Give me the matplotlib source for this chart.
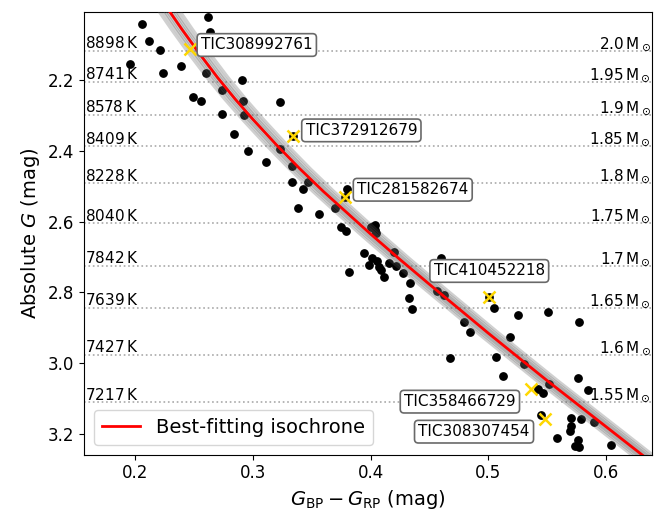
import matplotlib
matplotlib.use('Agg')
import matplotlib.pyplot as plt
import numpy as np

# best-fitting isochrone (colour, absolute G)
iso_color = [0.229, 0.240, 0.255, 0.270, 0.285, 0.300, 0.320, 0.340, 0.360, 0.380, 0.400,
             0.425, 0.450, 0.475, 0.500, 0.525, 0.550, 0.575, 0.600, 0.625, 0.640]
iso_G = [2.005, 2.058, 2.127, 2.193, 2.254, 2.311, 2.383, 2.451, 2.515, 2.575, 2.635,
         2.707, 2.777, 2.846, 2.915, 2.982, 3.049, 3.114, 3.179, 3.244, 3.283]
# spread of the sampled isochrones (colour shifts)
band_shifts = [-0.009, -0.006, -0.004, -0.002, 0.0, 0.002, 0.004, 0.006, 0.009]

# cluster members
star_color = [0.2062, 0.2621, 0.2638, 0.2121, 0.2212, 0.1958, 0.2235, 0.2390, 0.2603, 0.2909,
              0.2742, 0.2489, 0.2558, 0.2921, 0.3233, 0.2743, 0.2922, 0.2842, 0.2958, 0.3235,
              0.3116, 0.3332, 0.3331, 0.3428, 0.3386, 0.3342, 0.3469, 0.3799, 0.3780, 0.3695,
              0.3562, 0.3746, 0.3788, 0.3977, 0.4042, 0.4006, 0.4034, 0.4048, 0.3943, 0.4014,
              0.4057, 0.3986, 0.4076, 0.4091, 0.4113, 0.3816, 0.4155, 0.4203, 0.4218, 0.4274,
              0.4339, 0.4325, 0.4352, 0.4599, 0.4564, 0.4620, 0.5008, 0.5051, 0.5252, 0.5508,
              0.5771, 0.4797, 0.4845, 0.5184, 0.4675, 0.5065, 0.5305, 0.5125, 0.5517, 0.5765,
              0.5842, 0.5424, 0.5466, 0.5447, 0.5701, 0.5786, 0.5898, 0.5703, 0.5695, 0.5587,
              0.5765, 0.5737, 0.5771, 0.6040]
star_G = [2.0427, 2.0229, 2.0650, 2.0912, 2.1167, 2.1540, 2.1808, 2.1613, 2.1802, 2.2000,
          2.2282, 2.2489, 2.2593, 2.2585, 2.2616, 2.2969, 2.2989, 2.3525, 2.4020, 2.3955,
          2.4322, 2.4438, 2.4881, 2.5088, 2.5602, 2.3582, 2.4873, 2.5071, 2.5297, 2.5616,
          2.5777, 2.6144, 2.6257, 2.4966, 2.6096, 2.6161, 2.6237, 2.6314, 2.6879, 2.7037,
          2.7105, 2.7226, 2.7291, 2.7367, 2.7556, 2.7424, 2.7178, 2.6867, 2.7263, 2.7444,
          2.7726, 2.8167, 2.8463, 2.7020, 2.7960, 2.8059, 2.8138, 2.8441, 2.8638, 2.8562,
          2.8836, 2.8828, 2.9119, 2.9251, 2.9839, 2.9825, 3.0023, 3.0356, 3.0588, 3.0412,
          3.0757, 3.0715, 3.0833, 3.1463, 3.1548, 3.1585, 3.1647, 3.1774, 3.1915, 3.2099,
          3.2150, 3.2339, 3.2359, 3.2316]

# highlighted stars
tic_names = ['TIC308992761', 'TIC372912679', 'TIC281582674',
             'TIC410452218', 'TIC358466729', 'TIC308307454']
tic_color = [0.2466, 0.3342, 0.3780, 0.5008, 0.5362, 0.5481]
tic_G = [2.1133, 2.3582, 2.5297, 2.8138, 3.0729, 3.1576]

# mass / temperature grid along the isochrone
masses = [2.0, 1.95, 1.9, 1.85, 1.8, 1.75, 1.7, 1.65, 1.6, 1.55]
temps = [8898, 8741, 8578, 8409, 8228, 8040, 7842, 7639, 7427, 7217]
mass_G = [2.118, 2.205, 2.299, 2.388, 2.492, 2.605, 2.725, 2.844, 2.977, 3.110]

fig = plt.figure(figsize=(6.62, 5.15), dpi=100)
ax = fig.add_axes([0.127, 0.117, 0.858, 0.860])

for g, m, t in zip(mass_G, masses, temps):
    ax.axhline(g, color='darkgray', ls=':', lw=1.2, zorder=1)
    ax.annotate(f'{t}' + r'$\,$K', xy=(0, g), xycoords=('axes fraction', 'data'),
                xytext=(1, 2), textcoords='offset points', ha='left', va='baseline',
                fontsize=11)
    ax.annotate(f'{m}' + r'$\,\mathrm{M}_\odot$', xy=(1, g), xycoords=('axes fraction', 'data'),
                xytext=(-1, 2), textcoords='offset points', ha='right', va='baseline',
                fontsize=11)

ax.scatter(star_color, star_G, s=28, color='black', zorder=2)

iso_c = np.array(iso_color)
for sh in band_shifts:
    ax.plot(iso_c + sh, iso_G, color='0.35', alpha=0.28, lw=2.2, zorder=3)
ax.plot(iso_color, iso_G, color='red', lw=2, zorder=4, label='Best-fitting isochrone')

ax.plot(tic_color, tic_G, 'x', color='gold', ms=8, mew=1.8, ls='none', zorder=5)

# label offsets in points
offsets = [(8, 3, 'left'), (9, 4, 'left'), (9, 5, 'left'),
           (0, 19, 'center'), (-11, -9, 'right'), (-11, -9, 'right')]
box = dict(boxstyle='round,pad=0.25', fc='white', ec='dimgray', lw=1.2)
for name, c, g, (dx, dy, ha) in zip(tic_names, tic_color, tic_G, offsets):
    ax.annotate(name, xy=(c, g), xytext=(dx, dy), textcoords='offset points',
                ha=ha, va='center', fontsize=11, bbox=box, zorder=6)

ax.set_xlim(0.1568, 0.639)
ax.set_ylim(3.258, 2.008)
ax.set_xticks([0.2, 0.3, 0.4, 0.5, 0.6])
ax.set_yticks([2.2, 2.4, 2.6, 2.8, 3.0, 3.2])
ax.tick_params(labelsize=12)
ax.set_xlabel(r'$G_\mathrm{BP} - G_\mathrm{RP}$ (mag)', fontsize=14)
ax.set_ylabel(r'Absolute $G$ (mag)', fontsize=14)
ax.legend(loc='lower left', fontsize=14)

fig.savefig('out.png', dpi=100)
